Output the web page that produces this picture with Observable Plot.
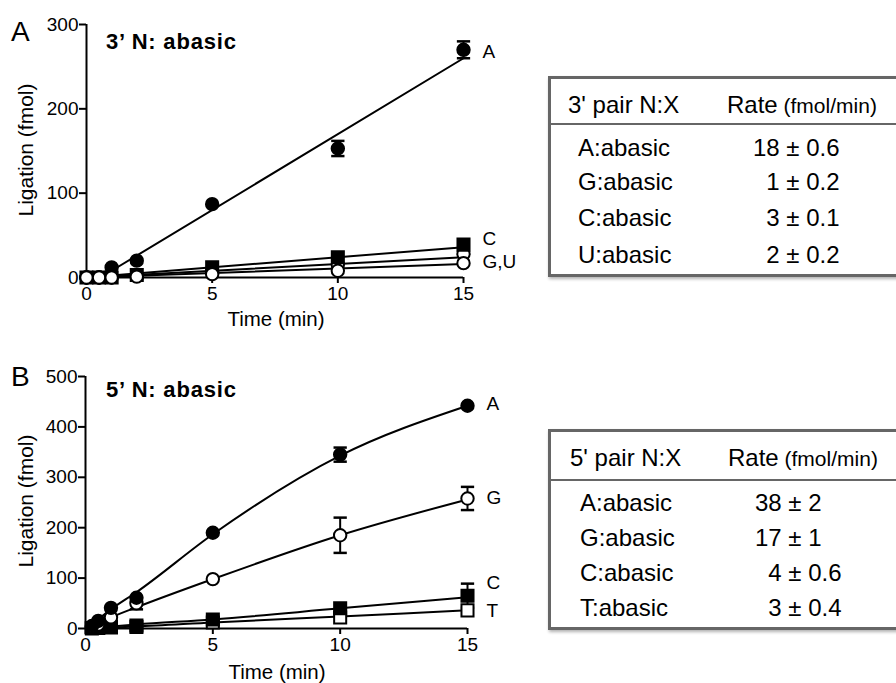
<!DOCTYPE html>
<html><head><meta charset="utf-8">
<script src="https://cdn.jsdelivr.net/npm/d3@7"></script>
<script src="https://cdn.jsdelivr.net/npm/@observablehq/plot@0.6"></script>
<style>
body{margin:0;background:#fff;}
#root{position:relative;width:896px;height:683px;overflow:hidden;font-family:"Liberation Sans",Arial,Helvetica,sans-serif;color:#000;background:#fff;}
.t{position:absolute;white-space:pre;line-height:1;transform:translateY(-50%);}
.box{position:absolute;border:3px solid #666;box-shadow:1px 2px 3px rgba(0,0,0,0.3);background:#fff;}
.sep{position:absolute;height:2px;background:#666;}
.plot{position:absolute;left:0;}
</style></head><body><div id="root"></div>
<script>
// ---------- Data ----------
// Panel A (3' N:abasic)
const timesA = [0, 0.5, 1, 2, 5, 10, 15];
const a_A = [0, 0, 12, 20, 87, 153, 270];
const a_Aerr = [0, 0, 0, 0, 0, 9, 10];
const a_C = [0, 0, 0, 3, 12, 24, 39];
const a_G = [0, 0, 0, 1, 4, 8, 17];
const a_U = [0, 0, 0, 2, 7, 15, 28];
const fitTimesA_A = [1, 15];
const fitA_A = [8, 260];
const fitTimesA = [0, 15];
const fitA_C = [0, 36];
const fitA_U = [0, 24];
const fitA_G = [0, 16];
const labelsA = ["A", "C", "G,U"];
const labelsA_y = [267, 46, 18];

// Panel B (5' N:abasic)
const timesB = [0.25, 0.5, 1, 2, 5, 10, 15];
const b_A = [5, 15, 41, 61, 190, 345, 442];
const b_Aerr = [0, 0, 0, 0, 0, 14, 0];
const b_G = [3, 8, 22, 50, 98, 185, 258];
const b_Gerr = [0, 0, 0, 12, 0, 35, 23];
const b_C = [1, 2, 4, 6, 18, 40, 65];
const b_Cerr = [0, 0, 0, 0, 0, 0, 24];
const b_T = [0, 1, 2, 3, 12, 22, 36];
const fitTimesB = [0.25, 1, 2, 5, 10, 15];
const fitB_A = [8, 38, 72, 187, 343, 442];
const fitB_G = [5, 22, 42, 98, 185, 256];
const fitB_C = [1, 4, 8, 18, 40, 62];
const fitB_T = [0, 2, 4, 12, 24, 36];
const labelsB = ["A", "G", "C", "T"];
const labelsB_y = [446, 260, 91, 34];

const xTicks = [0, 5, 10, 15];
const yTicksA = [0, 100, 200, 300];
const yTicksB = [0, 100, 200, 300, 400, 500];

// Tables
const tableA_head = ["3' pair N:X", "Rate", "(fmol/min)"];
const tableA_pairs = ["A:abasic", "G:abasic", "C:abasic", "U:abasic"];
const tableA_rates = ["18 ± 0.6", "1 ± 0.2", "3 ± 0.1", "2 ± 0.2"];
const tableB_head = ["5' pair N:X", "Rate", "(fmol/min)"];
const tableB_pairs = ["A:abasic", "G:abasic", "C:abasic", "T:abasic"];
const tableB_rates = ["38 ± 2", "17 ± 1", "4 ± 0.6", "3 ± 0.4"];

// ---------- Helpers ----------
const FONT = '"Liberation Sans", Arial, Helvetica, sans-serif';
const root = document.getElementById("root");
function txt(s, x, y, size, extra = {}) {
  const d = document.createElement("div");
  d.className = "t";
  d.textContent = s;
  d.style.left = x + "px";
  d.style.top = y + "px";
  d.style.fontSize = size + "px";
  Object.assign(d.style, extra);
  root.appendChild(d);
  return d;
}
const capSymbol = {draw(ctx, size) { const w = Math.sqrt(size); ctx.moveTo(-w / 2, 0); ctx.lineTo(w / 2, 0); }};

function panel(cfg) {
  const marks = [];
  marks.push(Plot.axisY({ticks: cfg.yTicks, tickSize: 7, tickPadding: 1, strokeWidth: 2, fontSize: 19, label: null}));
  marks.push(Plot.axisX({ticks: xTicks, tickSize: 6, tickPadding: 3, strokeWidth: 2, fontSize: 19, label: null}));
  marks.push(Plot.ruleX([0], {strokeWidth: 2}));
  marks.push(Plot.ruleY([0], {strokeWidth: 2}));
  for (const f of cfg.fits) {
    const rows = f.t.map((t, i) => ({t, v: f.v[i]}));
    marks.push(Plot.line(rows, {x: "t", y: "v", curve: "monotone-x", strokeWidth: 2, stroke: "black"}));
  }
  for (const s of cfg.series) {
    const rows = cfg.times.map((t, i) => ({t, v: s.v[i], e: s.e ? s.e[i] : 0}));
    const er = rows.filter(d => d.e > 0);
    if (er.length) {
      marks.push(Plot.ruleX(er, {x: "t", y1: d => d.v - d.e, y2: d => d.v + d.e, strokeWidth: 2}));
      marks.push(Plot.dot(er, {x: "t", y: d => d.v - d.e, symbol: capSymbol, r: 7.5, stroke: "black", strokeWidth: 2.5}));
      marks.push(Plot.dot(er, {x: "t", y: d => d.v + d.e, symbol: capSymbol, r: 7.5, stroke: "black", strokeWidth: 2.5}));
    }
  }
  for (const s of cfg.series) {
    const rows = cfg.times.map((t, i) => ({t, v: s.v[i]}));
    marks.push(Plot.dot(rows, {x: "t", y: "v", symbol: s.symbol, r: s.symbol === "square" ? 6.8 : 6.2,
      fill: s.fill, stroke: "black", strokeWidth: 2}));
  }
  const lab = cfg.labels.map((l, i) => ({l, t: 15, v: cfg.labelY[i]}));
  marks.push(Plot.text(lab, {x: "t", y: "v", text: "l", dx: 19, textAnchor: "start", fontSize: 19, fill: "black"}));
  const p = Plot.plot({
    width: 520, height: cfg.height,
    marginLeft: cfg.ml, marginRight: cfg.mr, marginTop: cfg.mt, marginBottom: cfg.mb,
    x: {domain: [0, 15]},
    y: {domain: [0, cfg.yMax]},
    style: {fontFamily: FONT, fontSize: "19px", color: "black", background: "transparent", overflow: "visible"},
    marks
  });
  p.classList.add("plot");
  p.style.top = cfg.top + "px";
  root.appendChild(p);
}

// ---------- Panel A ----------
panel({
  top: 0, height: 340, ml: 86, mr: 57, mt: 24, mb: 63, yMax: 300, yTicks: yTicksA,
  times: timesA,
  series: [
    {name: "U", v: a_U, symbol: "circle", fill: "white"},
    {name: "C", v: a_C, symbol: "square", fill: "black"},
    {name: "A", v: a_A, e: a_Aerr, symbol: "circle", fill: "black"},
    {name: "G", v: a_G, symbol: "circle", fill: "white"}
  ],
  fits: [
    {t: fitTimesA_A, v: fitA_A},
    {t: fitTimesA, v: fitA_C},
    {t: fitTimesA, v: fitA_U},
    {t: fitTimesA, v: fitA_G}
  ],
  labels: labelsA, labelY: labelsA_y
});

// ---------- Panel B ----------
panel({
  top: 340, height: 343, ml: 85, mr: 53, mt: 36, mb: 55, yMax: 500, yTicks: yTicksB,
  times: timesB,
  series: [
    {name: "T", v: b_T, symbol: "square", fill: "white"},
    {name: "C", v: b_C, e: b_Cerr, symbol: "square", fill: "black"},
    {name: "G", v: b_G, e: b_Gerr, symbol: "circle", fill: "white"},
    {name: "A", v: b_A, e: b_Aerr, symbol: "circle", fill: "black"}
  ],
  fits: [
    {t: fitTimesB, v: fitB_A},
    {t: fitTimesB, v: fitB_G},
    {t: fitTimesB, v: fitB_C},
    {t: fitTimesB, v: fitB_T}
  ],
  labels: labelsB, labelY: labelsB_y
});

// ---------- Texts around plots ----------
txt("A", 11, 32, 28);
txt("B", 11, 377, 28);
txt("3’ N: abasic", 106, 42, 22, {fontWeight: "bold", letterSpacing: "0.8px"});
txt("5’ N: abasic", 106, 390, 22, {fontWeight: "bold", letterSpacing: "0.8px"});
for (const [cx, cy] of [[25, 150], [25, 501]]) {
  const d = txt("Ligation (fmol)", cx, cy, 21);
  d.style.transform = "translate(-50%, -50%) rotate(-90deg)";
}
for (const [cx, cy] of [[276, 319], [277, 672]]) {
  const d = txt("Time (min)", cx, cy, 20.5);
  d.style.transform = "translate(-50%, -50%)";
}

// ---------- Tables ----------
function table(top, head, pairs, rates, cfg) {
  const b = document.createElement("div");
  b.className = "box";
  b.style.left = "548px"; b.style.top = top + "px";
  b.style.width = "400px"; b.style.height = "195px";
  root.appendChild(b);
  const s = document.createElement("div");
  s.className = "sep";
  s.style.left = "550px"; s.style.width = "360px"; s.style.top = (top + cfg.sep) + "px";
  root.appendChild(s);
  txt(head[0], cfg.hx, top + cfg.hy, 24);
  const r = txt(head[1], cfg.rx, top + cfg.hy, 24);
  const u = document.createElement("span");
  u.textContent = " " + head[2];
  u.style.fontSize = "21px";
  r.appendChild(u);
  pairs.forEach((p, i) => {
    txt(p, cfg.px, top + cfg.rows[i], 24);
    const val = /^\d\s/.test(rates[i]) ? "\u2007" + rates[i] : rates[i];
    txt(val, cfg.vx, top + cfg.rows[i], 24);
  });
}
table(76, tableA_head, tableA_pairs, tableA_rates,
  {sep: 47, hx: 568, hy: 29, rx: 727, px: 578, vx: 753, rows: [72, 106, 142, 179]});
table(429, tableB_head, tableB_pairs, tableB_rates,
  {sep: 50, hx: 570, hy: 29, rx: 728, px: 580, vx: 755, rows: [74, 109, 144, 179]});
</script>
</body></html>
